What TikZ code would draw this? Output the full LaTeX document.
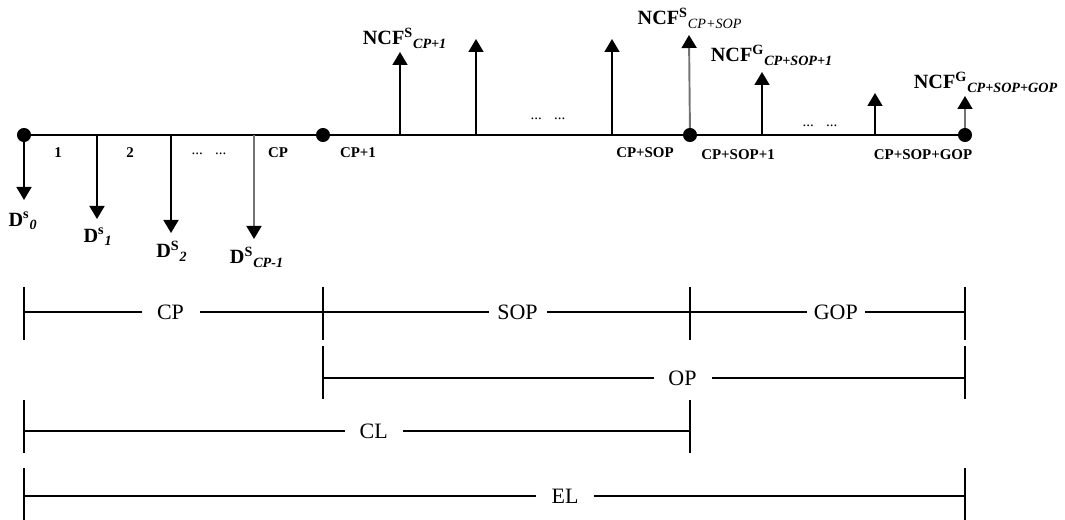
\documentclass[tikz,border=0pt]{standalone}
\usepackage{fontspec}
\setmainfont{Liberation Serif}
\usetikzlibrary{arrows.meta}

\begin{document}
\begin{tikzpicture}[x=0.02cm,y=-0.02cm,
          dot/.style={circle, fill=black, inner sep=0pt, minimum size=8pt},
          flow/.style={-{Triangle[length=7.4pt,width=8.5pt]}, line width=1.1pt},
          gflow/.style={-{Triangle[length=7.4pt,width=8.5pt,color=black]},
                    line width=1.1pt, black!55},
          lbl/.style={font=\fontsize{11.5}{13}\selectfont\bfseries, inner sep=1pt},
          tk/.style={font=\fontsize{8.5}{10}\selectfont\bfseries, inner sep=1pt},
          span/.style={line width=1.1pt},
          bar/.style={line width=0.6pt},
          per/.style={fill=white, font=\fontsize{12.5}{14}\selectfont,
                    minimum width=33pt, inner sep=0pt}]
        \useasboundingbox (0,0) rectangle (1065,520);
        % time line
        \draw[line width=1.3pt] (24,135) coordinate (l0) -- (965,135) coordinate (l1);
        \coordinate (t0) at (24,135);
        \coordinate (t2) at (690,135);
        \coordinate (t3) at (965,135);
        % outflows
        \coordinate (o1) at (97,135);
        \coordinate (o2) at (171,135);
        \coordinate (o3) at (254,135);
        \coordinate (e0) at (24,200);
        \coordinate (e1) at (97,219);
        \coordinate (e2) at (171,233);
        \coordinate (e3) at (254,239);
        \draw[flow]  (t0) -- (e0);
        \draw[flow]  (o1) -- (e1);
        \draw[flow]  (o2) -- (e2);
        \draw[gflow] (o3) -- (e3);
        \node[lbl] (d0) at (23,221)  {D\textsuperscript{s}\textsubscript{\itshape 0}};
        \node[lbl] (d1) at (98,237)  {D\textsuperscript{s}\textsubscript{\itshape 1}};
        \node[lbl] (d2) at (172,251) {D\textsuperscript{S}\textsubscript{\itshape 2}};
        \node[lbl] (d3) at (257,257) {D\textsuperscript{S}\textsubscript{\itshape CP-1}};
        % inflows
        \coordinate (u1) at (400,135);
        \coordinate (u2) at (476,135);
        \coordinate (u3) at (612,135);
        \coordinate (u5) at (762,135);
        \coordinate (u6) at (875,135);
        \coordinate (p1) at (400,52);
        \coordinate (p2) at (476,39);
        \coordinate (p3) at (612,39);
        \coordinate (p4) at (689,35);
        \coordinate (p5) at (762,72);
        \coordinate (p6) at (875,93);
        \coordinate (p7) at (965,96);
        \draw[flow]  (u1) -- (p1);
        \draw[flow]  (u2) -- (p2);
        \draw[flow]  (u3) -- (p3);
        \draw[gflow] (t2) -- (p4);
        \draw[flow]  (u5) -- (p5);
        \draw[flow]  (u6) -- (p6);
        \draw[gflow] (t3) -- (p7);
        \node[dot] (s0) at (t0) {};
        \node[dot] (s1) at (323,135) {};
        \node[dot] (s2) at (t2) {};
        \node[dot] (s3) at (t3) {};
        \node[lbl] (n1) at (405,38) {NCF\textsuperscript{S}\textsubscript{\itshape CP+1}};
        \node[lbl] (n2) at (690,18) {NCF\textsuperscript{S}\textsubscript{\mdseries\itshape CP+SOP}};
        \node[lbl] (n3) at (772,55) {NCF\textsuperscript{G}\textsubscript{\itshape CP+SOP+1}};
        \node[lbl] (n4) at (986,82) {NCF\textsuperscript{G}\textsubscript{\itshape CP+SOP+GOP}};
        % period numbers
        \node[tk] (k1) at (58,153)  {1};
        \node[tk] (k2) at (130,153) {2};
        \node[tk] (k3) at (209,154) {\mdseries...\hspace{7pt}...};
        \node[tk] (k4) at (278,153) {CP};
        \node[tk] (k5) at (358,153) {CP+1};
        \node[tk] (k6) at (548,119) {\mdseries...\hspace{7pt}...};
        \node[tk] (k7) at (645,153) {CP+SOP};
        \node[tk] (k8) at (738,155) {CP+SOP+1};
        \node[tk] (k9) at (820,126) {\mdseries...\hspace{7pt}...};
        \node[tk] (k10) at (923,155) {CP+SOP+GOP};
        % periods
        \coordinate (a0) at (24,312);
        \coordinate (a1) at (323,312);
        \coordinate (a2) at (690,312);
        \coordinate (a3) at (965,312);
        \draw[span] (a0) -- node[per,pos=0.49] (cp) {CP} (a1)
                         -- node[per,pos=0.53] (sop) {SOP} (a2)
                         -- node[per,pos=0.53] (gop) {GOP} (a3);
        \draw[bar] (24,287) -- (24,340) (323,287) -- (323,340)
                   (690,287) -- (690,340) (965,287) -- (965,340);
        \coordinate (b0) at (323,378);
        \coordinate (b1) at (965,378);
        \draw[span] (b0) -- node[per,pos=0.56] (op) {OP} (b1);
        \draw[bar] (323,346) -- (323,399) (965,346) -- (965,399);
        \coordinate (c0) at (24,431);
        \coordinate (c1) at (690,431);
        \draw[span] (c0) -- node[per,pos=0.525] (cl) {CL} (c1);
        \draw[bar] (24,400) -- (24,453) (690,400) -- (690,453);
        \coordinate (f0) at (24,496);
        \coordinate (f1) at (965,496);
        \draw[span] (f0) -- node[per,pos=0.575] (el) {EL} (f1);
        \draw[bar] (24,468) -- (24,520) (965,468) -- (965,520);
      \end{tikzpicture}
\end{document}
